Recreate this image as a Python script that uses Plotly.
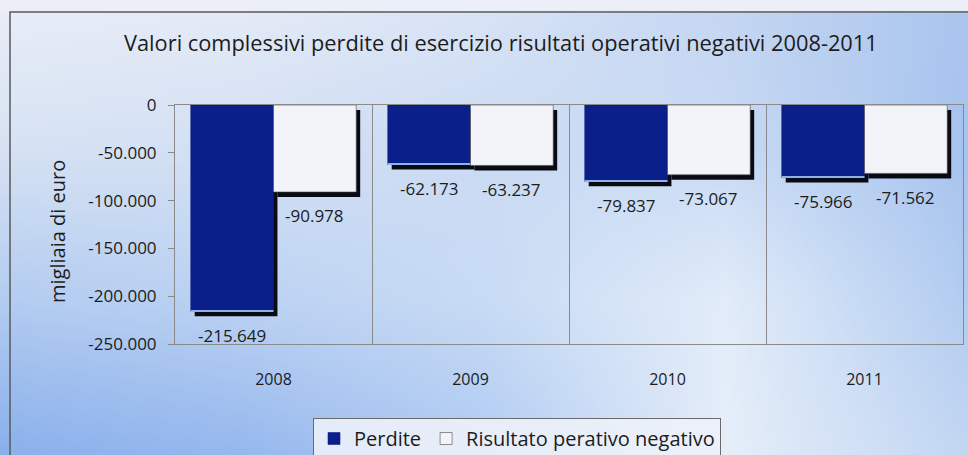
import base64
import struct
import zlib

import plotly.graph_objects as go

# ---- data (migliaia di euro) ----
anni = ["2008", "2009", "2010", "2011"]
perdite = [-215649, -62173, -79837, -75966]
risultato_negativo = [-90978, -63237, -73067, -71562]
y_tick_vals = [0, -50000, -100000, -150000, -200000, -250000]
y_tick_text = ["0", "-50.000", "-100.000", "-150.000", "-200.000", "-250.000"]

W, H = 968, 455
FONT = "Open Sans"
TEXT_COL = "#1c1c1c"


def it_num(v):
    """Italian thousands separator: -215649 -> '-215.649'."""
    return f"{v:,}".replace(",", ".")


def px_x(p):
    return p / W


def px_y(p):
    return 1 - p / H


# ---- soft blue background as a small generated PNG ----
def hexrgb(h):
    h = h.lstrip("#")
    return tuple(int(h[i:i + 2], 16) for i in (0, 2, 4))


grid_x = [0, 242, 484, 726, 968]
grid_y = [12, 150, 300, 455]
grid_c = [
    ["#e8edf7", "#e4eaf6", "#d8e3f5", "#c4d6f2", "#aac5ee"],
    ["#d6e2f3", "#d3e0f4", "#cbdbf3", "#c8daf3", "#a6c3ee"],
    ["#b3ccf0", "#bcd2f2", "#c8dbf4", "#e2ecf9", "#b2ccf0"],
    ["#8ab0ec", "#96b8ee", "#b0cbf2", "#e6eef9", "#c2d6f2"],
]
grid_rgb = [[hexrgb(c) for c in row] for row in grid_c]


def seg(vals, v):
    for i in range(len(vals) - 1):
        if v <= vals[i + 1]:
            return i, (v - vals[i]) / (vals[i + 1] - vals[i])
    return len(vals) - 2, 1.0


def bg_color(x, y):
    if y < 12:
        return hexrgb("#eceff7")
    i, ty = seg(grid_y, y)
    j, tx = seg(grid_x, x)
    out = []
    for k in range(3):
        a = grid_rgb[i][j][k] * (1 - tx) + grid_rgb[i][j + 1][k] * tx
        b = grid_rgb[i + 1][j][k] * (1 - tx) + grid_rgb[i + 1][j + 1][k] * tx
        out.append(int(round(a * (1 - ty) + b * ty)))
    return tuple(out)


def make_png(w, h, step):
    raw = bytearray()
    for r in range(h):
        raw.append(0)
        for c in range(w):
            raw.extend(bg_color(c * step + step / 2, r * step + step / 2))

    def chunk(tag, data):
        body = tag + data
        return struct.pack(">I", len(data)) + body + struct.pack(">I", zlib.crc32(body) & 0xFFFFFFFF)

    png = b"\x89PNG\r\n\x1a\n"
    png += chunk(b"IHDR", struct.pack(">IIBBBBB", w, h, 8, 2, 0, 0, 0))
    png += chunk(b"IDAT", zlib.compress(bytes(raw), 9))
    png += chunk(b"IEND", b"")
    return "data:image/png;base64," + base64.b64encode(png).decode()


STEP = 4
bg_uri = make_png(W // STEP, H // STEP + 1, STEP)

# ---- bars ----
BAR_W = 0.42
SH_DX = 0.02          # shadow shift to the right (category units)
SH_DY = -5230         # shadow shift downwards (data units)

fig = go.Figure()

for vals, off in ((perdite, -BAR_W), (risultato_negativo, 0.0)):
    fig.add_trace(go.Bar(
        x=anni, y=vals, base=[SH_DY] * len(vals),
        width=BAR_W, offset=off + SH_DX,
        marker=dict(color="#0a0a14", line=dict(width=0)),
        showlegend=False, hoverinfo="skip",
    ))

fig.add_trace(go.Bar(
    x=anni, y=perdite, name="Perdite",
    width=BAR_W, offset=-BAR_W,
    marker=dict(color="#0b1f8a", line=dict(width=0.6, color="#0b1f8a")),
))
# thin light edge along the bottom of the dark bars
fig.add_trace(go.Bar(
    x=anni, y=[1300] * len(perdite), base=perdite,
    width=BAR_W, offset=-BAR_W,
    marker=dict(color="#8fb2e6", line=dict(width=0)),
    showlegend=False, hoverinfo="skip",
))
fig.add_trace(go.Bar(
    x=anni, y=risultato_negativo, name="Risultato perativo negativo",
    width=BAR_W, offset=0.0,
    marker=dict(color="#f2f4f9", line=dict(width=0.6, color="#4a4a4a")),
))

# ---- value labels under each bar ----
annotations = []
for i, yr in enumerate(anni):
    for v, dx in ((perdite[i], -BAR_W / 2), (risultato_negativo[i], BAR_W / 2)):
        annotations.append(dict(
            x=i + dx, y=v, xref="x", yref="y", text=it_num(v),
            showarrow=False, yanchor="middle", yshift=-24,
            font=dict(family=FONT, size=17, color=TEXT_COL),
        ))

annotations.append(dict(
    x=px_x(501), y=px_y(42), xref="paper", yref="paper",
    text="Valori complessivi perdite di esercizio risultati operativi negativi 2008-2011",
    showarrow=False, xanchor="center", yanchor="middle",
    font=dict(family=FONT, size=21.8, color=TEXT_COL),
))
annotations.append(dict(
    x=px_x(58), y=px_y(232), xref="paper", yref="paper",
    text="migliaia di euro", textangle=-90, showarrow=False,
    xanchor="center", yanchor="middle",
    font=dict(family=FONT, size=20, color=TEXT_COL),
))

fig.update_layout(
    width=W, height=H,
    margin=dict(l=0, r=0, t=0, b=0, autoexpand=False),
    paper_bgcolor="#dfe7f5",
    plot_bgcolor="rgba(0,0,0,0)",
    barmode="overlay",
    font=dict(family=FONT, size=15, color=TEXT_COL),
    annotations=annotations,
    images=[dict(
        source=bg_uri, xref="paper", yref="paper", x=0, y=1,
        sizex=1, sizey=1, sizing="stretch", layer="below",
    )],
    shapes=[dict(
        type="rect", xref="paper", yref="paper",
        x0=px_x(10), x1=1.02, y0=-0.05, y1=px_y(12),
        line=dict(color="#5a5a5a", width=1.5), layer="below",
    )],
    legend=dict(
        orientation="h", x=px_x(313), y=px_y(418),
        xanchor="left", yanchor="top",
        bgcolor="rgba(236,241,250,0.9)", bordercolor="#6a6a6a", borderwidth=1,
        font=dict(family=FONT, size=20, color=TEXT_COL),
        traceorder="normal",
    ),
    xaxis=dict(
        domain=[px_x(175), px_x(963)],
        type="category", tickson="boundaries",
        showgrid=True, gridcolor="#8a8a8a", gridwidth=1,
        showline=True, linecolor="#8a8a8a", linewidth=1, mirror=True,
        ticks="", ticklabelstandoff=21,
        tickfont=dict(family=FONT, size=16, color=TEXT_COL),
        fixedrange=True,
    ),
    yaxis=dict(
        domain=[px_y(344), px_y(105)],
        range=[-250000, 0],
        tickvals=y_tick_vals, ticktext=y_tick_text,
        showgrid=False, zeroline=False,
        showline=True, linecolor="#8a8a8a", linewidth=1, mirror=True,
        ticks="outside", ticklen=6, tickcolor="#8a8a8a",
        ticklabelstandoff=8,
        tickfont=dict(family=FONT, size=17, color=TEXT_COL),
        fixedrange=True,
    ),
)

fig.write_html("out.html")
